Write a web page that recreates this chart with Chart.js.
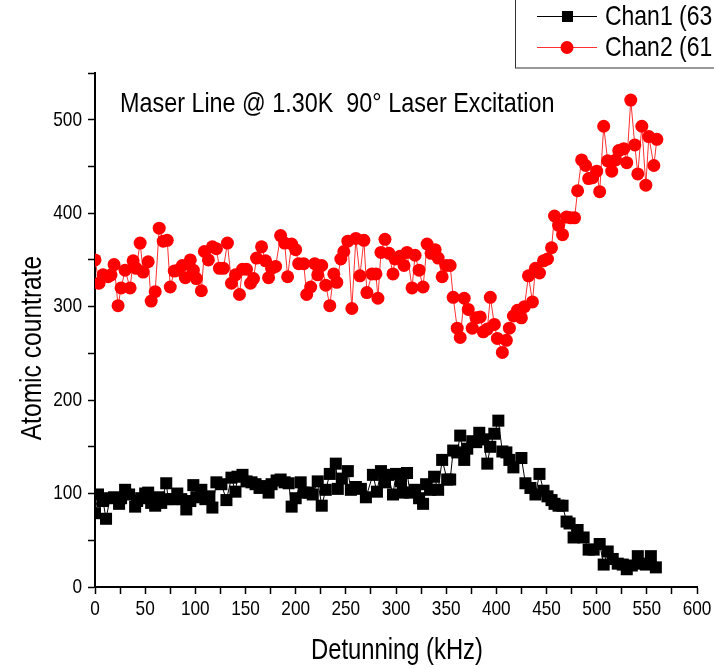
<!DOCTYPE html>
<html>
<head>
<meta charset="utf-8">
<title>Maser Line</title>
<script src="https://cdn.jsdelivr.net/npm/chart.js@4/dist/chart.umd.min.js"></script>
<style>
  html, body { margin: 0; padding: 0; background: #fff; }
  canvas { display: block; }
</style>
</head>
<body>
<canvas id="maser" width="714" height="669"></canvas>
<script>
// Values (kHz vs. counts)
const chan2Freq = [0, 4, 8, 13, 16, 19, 23, 26, 30, 35, 38, 41, 45, 48, 53, 56, 60, 64, 68, 72, 75, 79, 83, 87, 90, 95, 98, 101, 106, 109,
  113, 117, 121, 124, 128, 132, 136, 140, 144, 147, 151, 155, 158, 161, 166, 170, 173, 176, 180, 185, 189, 192, 196, 200, 203, 208, 211, 215, 219, 222,
  226, 230, 234, 238, 241, 245, 248, 252, 256, 260, 264, 268, 271, 276, 280, 282, 285, 289, 293, 297, 299, 304, 308, 311, 316, 319, 323, 327, 331, 335,
  339, 342, 346, 350, 354, 357, 361, 364, 368, 372, 376, 380, 384, 387, 391, 394, 398, 401, 406, 410, 413, 417, 421, 425, 428, 432, 436, 439, 443, 447,
  451, 455, 458, 462, 466, 470, 474, 478, 481, 485, 489, 492, 496, 500, 503, 507, 511, 515, 519, 522, 527, 530, 534, 538, 541, 545, 549, 552, 557, 560];
const chan2Count = [350, 325, 334, 332, 334, 345, 301, 320, 339, 320, 349, 341, 368, 337, 348, 306, 316, 384, 370, 371, 321, 338, 339, 344, 331, 350, 339, 330, 317, 359,
  350, 364, 362, 341, 341, 368, 325, 334, 313, 340, 340, 325, 330, 352, 364, 349, 331, 341, 343, 376, 368, 332, 367, 361, 346, 346, 313, 321, 346, 334,
  344, 323, 301, 335, 326, 351, 359, 370, 298, 373, 333, 371, 315, 335, 335, 309, 358, 372, 357, 335, 351, 354, 344, 358, 320, 355, 339, 321, 367, 357,
  361, 352, 332, 344, 344, 310, 277, 267, 309, 297, 277, 288, 289, 273, 276, 310, 281, 266, 251, 264, 277, 290, 296, 288, 300, 333, 305, 341, 336, 349,
  351, 363, 397, 387, 377, 396, 395, 395, 424, 457, 451, 437, 438, 445, 423, 493, 456, 445, 457, 467, 469, 454, 521, 473, 442, 493, 430, 482, 451, 479];

const chan1Freq = [0, 3, 8, 11, 15, 19, 24, 26, 30, 34, 40, 42, 46, 50, 53, 56, 60, 64, 66, 71, 73, 78, 82, 86, 91, 95, 98, 101, 106, 110,
  114, 117, 121, 126, 131, 136, 140, 142, 147, 151, 156, 160, 164, 167, 173, 176, 181, 185, 189, 193, 196, 200, 205, 208, 213, 217, 222, 226, 230, 234,
  240, 242, 246, 252, 255, 260, 265, 270, 277, 281, 285, 289, 292, 297, 300, 305, 307, 311, 314, 319, 323, 327, 330, 334, 338, 342, 346, 351, 354, 357,
  361, 364, 368, 371, 376, 380, 383, 387, 391, 394, 398, 402, 406, 410, 413, 417, 425, 429, 434, 439, 443, 447, 451, 455, 458, 462, 466, 470, 473, 477,
  481, 487, 492, 497, 503, 507, 511, 516, 521, 526, 530, 535, 541, 545, 549, 554, 559];
const chan1Count = [79, 99, 92, 73, 95, 96, 89, 95, 104, 99, 86, 92, 95, 100, 101, 90, 87, 96, 90, 111, 94, 94, 100, 94, 83, 92, 109, 96, 104, 94,
  97, 85, 112, 110, 93, 117, 102, 118, 120, 113, 112, 110, 106, 108, 101, 110, 114, 115, 112, 111, 86, 95, 112, 101, 101, 99, 113, 87, 104, 121,
  132, 105, 116, 124, 104, 107, 105, 96, 120, 102, 124, 112, 120, 99, 121, 113, 101, 122, 101, 104, 95, 89, 110, 104, 118, 104, 136, 115, 115, 146,
  144, 162, 136, 148, 156, 155, 165, 158, 132, 150, 164, 178, 145, 144, 136, 128, 138, 111, 106, 99, 121, 103, 97, 93, 89, 87, 87, 70, 68, 53,
  61, 53, 40, 40, 46, 24, 38, 30, 25, 24, 19, 23, 33, 25, 24, 33, 21];

const seriesLabels = ['Chan1 (63', 'Chan2 (61'];
const plotTitle = 'Maser Line @ 1.30K  90\u00b0 Laser Excitation';
const xTitle = 'Detunning (kHz)';
const yTitle = 'Atomic countrate';

const FONT = "'Liberation Sans', Arial, sans-serif";

const toPoints = (xs, ys) => xs.map((x, i) => ({ x: x, y: ys[i] }));

// The scan uses a narrow face (Arial Narrow look), so squeeze the text horizontally.
function narrowText(ctx, text, x, y, size, align, angle) {
  ctx.save();
  ctx.translate(x, y);
  if (angle) ctx.rotate(angle);
  ctx.scale(0.82, 1);
  ctx.font = size + 'px ' + FONT;
  ctx.textAlign = align;
  ctx.textBaseline = 'middle';
  ctx.fillText(text, 0, 0);
  ctx.restore();
}

// Origin-style decorations: tick numbers, in-plot caption, axis titles and the clipped legend box
const decorations = {
  id: 'decorations',
  afterDraw(chart) {
    const ctx = chart.ctx;
    const xs = chart.scales.x, ys = chart.scales.y;
    ctx.save();
    ctx.fillStyle = '#000';

    // tick numbers, placed by the scales themselves
    xs.ticks.forEach(t => {
      if (t.value % 50 === 0) narrowText(ctx, String(t.value), xs.getPixelForValue(t.value), 609, 21, 'center');
    });
    ys.ticks.forEach(t => {
      if (t.value % 100 === 0) narrowText(ctx, String(t.value), 82, ys.getPixelForValue(t.value), 21, 'right');
    });

    narrowText(ctx, plotTitle, 120, 104, 28.5, 'left');
    narrowText(ctx, xTitle, 397, 651, 29, 'center');
    narrowText(ctx, yTitle, 33, 348, 30, 'center', -Math.PI / 2);

    // legend (runs off the right edge like the scan)
    ctx.strokeStyle = '#333';
    ctx.lineWidth = 1;
    ctx.strokeRect(515.5, -2, 240, 70);

    const rows = [16, 47];
    chart.data.datasets.forEach((ds, i) => {
      const y = rows[i];
      ctx.strokeStyle = ds.borderColor;
      ctx.lineWidth = 1;
      ctx.beginPath();
      ctx.moveTo(537, y + 0.5);
      ctx.lineTo(597, y + 0.5);
      ctx.stroke();
      ctx.fillStyle = ds.pointBackgroundColor;
      if (ds.pointStyle === 'rect') {
        ctx.fillRect(562, y - 5, 11, 11);
      } else {
        ctx.beginPath();
        ctx.arc(567, y + 0.5, 6.5, 0, Math.PI * 2);
        ctx.fill();
      }
      ctx.fillStyle = '#000';
      narrowText(ctx, ds.label, 605, y + 1, 28, 'left');
    });
    ctx.restore();
  }
};

new Chart(document.getElementById('maser'), {
  type: 'line',
  data: {
    datasets: [
      {
        label: seriesLabels[0],
        data: toPoints(chan1Freq, chan1Count),
        borderColor: '#000',
        borderWidth: 1,
        pointStyle: 'rect',
        pointRadius: 8.5,
        pointBorderWidth: 0,
        pointBackgroundColor: '#000',
        tension: 0
      },
      {
        label: seriesLabels[1],
        data: toPoints(chan2Freq, chan2Count),
        borderColor: '#ff3030',
        borderWidth: 1,
        pointStyle: 'circle',
        pointRadius: 6.5,
        pointBorderWidth: 0,
        pointBackgroundColor: '#ff0000',
        tension: 0
      }
    ]
  },
  options: {
    responsive: false,
    animation: false,
    devicePixelRatio: 1,
    layout: { padding: { top: 73, right: 17, left: 0, bottom: 0 } },
    plugins: {
      legend: { display: false },
      tooltip: { enabled: false }
    },
    scales: {
      x: {
        type: 'linear',
        min: 0, max: 600,
        afterFit: s => { s.height = 82; },
        border: { color: '#000', width: 2 },
        grid: { drawOnChartArea: false, tickLength: 7, color: '#000', tickWidth: 1.5 },
        ticks: { stepSize: 25, autoSkip: false, maxRotation: 0, display: false }
      },
      y: {
        min: 0, max: 550,
        afterFit: s => { s.width = 95; },
        border: { color: '#000', width: 2 },
        grid: { drawOnChartArea: false, tickLength: 7, color: '#000', tickWidth: 1.5 },
        ticks: { stepSize: 50, display: false }
      }
    }
  },
  plugins: [decorations]
});
</script>
</body>
</html>
